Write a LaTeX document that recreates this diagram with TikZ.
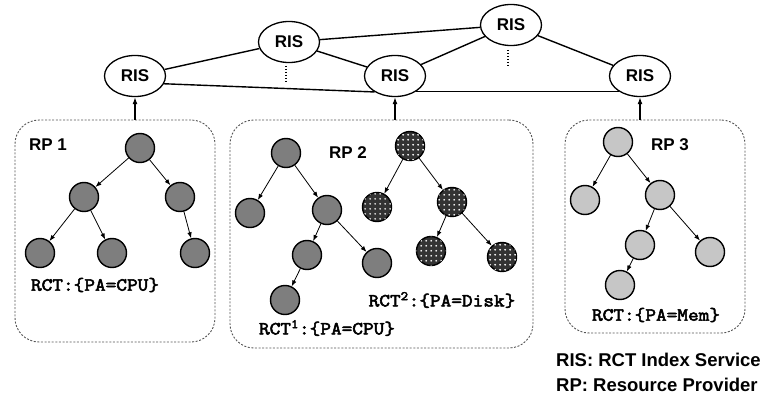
\documentclass[tikz,border=0pt]{standalone}
\usepackage{fontspec}
\setmainfont{Liberation Sans}
\newfontfamily\codefont{Latin Modern Mono}[FakeStretch=1.12, FakeBold=3]
\usetikzlibrary{shapes.geometric,arrows.meta,patterns.meta}

\definecolor{darkfill}{HTML}{7E7E7E}
\definecolor{lightfill}{HTML}{C6C6C6}
\definecolor{boxline}{HTML}{555555}

\tikzdeclarepattern{
  name=whitegrid,
  type=uncolored,
  bounding box={(0pt,0pt) and (4.6pt,4.6pt)},
  tile size={(4.6pt,4.6pt)},
  code={\fill (2.3pt,2.3pt) circle (1.05pt);}
}

\tikzset{
  ris/.style={ellipse, draw, line width=1.3pt, minimum width=61pt, minimum height=41pt,
    inner sep=0pt, font=\fontsize{17}{19}\selectfont\bfseries},
  rpbox/.style={draw=boxline, dash pattern=on 2pt off 1.6pt, line width=0.9pt,
    rounded corners=24pt, inner sep=0pt},
  tnode/.style={circle, draw, line width=1.4pt, minimum size=29pt, inner sep=0pt},
  gnode/.style={tnode, fill=darkfill},
  lnode/.style={tnode, fill=lightfill},
  pnode/.style={tnode, fill=black!80, postaction={pattern={whitegrid}, pattern color=white}},
  link/.style={line width=1.4pt},
  tedge/.style={line width=0.8pt, -{Latex[length=6pt,width=4.5pt]}},
  upedge/.style={line width=1.4pt, -{Latex[length=7pt,width=5pt]}},
  vdots/.style={line width=1.5pt, dash pattern=on 1.5pt off 1.5pt},
  rplabel/.style={font=\fontsize{17}{19}\selectfont\bfseries},
  rct/.style={font=\codefont\fontsize{18.5}{20}\selectfont, inner sep=0pt},
  legend/.style={anchor=west, inner sep=0pt, font=\fontsize{18.5}{21}\selectfont\bfseries}
}

\begin{document}
\begin{tikzpicture}[x=1pt, y=-1pt]
\useasboundingbox (0,0) rectangle (766,396);

% index services
\node[ris] (R1) at (135,76) {RIS};
\node[ris] (R2) at (289,42) {RIS};
\node[ris] (R3) at (395,76) {RIS};
\node[ris] (R4) at (511,25) {RIS};
\node[ris] (R5) at (640,76) {RIS};

\draw[link] (R1) -- (R2);
\draw[link] (R1.-15) -- (R3.218);
\draw[link] (R2) -- (R3);
\draw[link] (R2) -- (R4);
\draw[link] (R4) -- (R3);
\draw[link] (R4) -- (R5);
\draw[link] (R3.-36) -- (R5.216);

\coordinate (d1a) at (286,66);
\coordinate (d1b) at (286,83);
\coordinate (d2a) at (508,50);
\coordinate (d2b) at (508,67);
\draw[vdots] (d1a) -- (d1b);
\draw[vdots] (d2a) -- (d2b);

% resource providers
\node[rpbox, minimum width=200pt, minimum height=222pt] (B1) at (115,231) {};
\node[rpbox, minimum width=303pt, minimum height=228pt] (B2) at (381.5,234) {};
\node[rpbox, minimum width=180pt, minimum height=213pt] (B3) at (655,226.5) {};

\draw[upedge] (R1 |- B1.north) -- (R1);
\draw[upedge] (R3 |- B2.north) -- (R3);
\draw[upedge] (R5 |- B3.north) -- (R5);

\node[rplabel] (L1) at (48,145) {RP 1};
\node[rplabel] (L2) at (348,153) {RP 2};
\node[rplabel] (L3) at (670,145) {RP 3};

% RP 1 tree
\node[gnode] (a) at (140,148) {};
\node[gnode] (b) at (84,197) {};
\node[gnode] (c) at (180,197) {};
\node[gnode] (d) at (40,253) {};
\node[gnode] (e) at (112,253) {};
\node[gnode] (f) at (195,253) {};
\draw[tedge] (a) -- (b);
\draw[tedge] (a) -- (c);
\draw[tedge] (b) -- (d);
\draw[tedge] (b) -- (e);
\draw[tedge] (c) -- (f);
\node[rct] (T1) at (95,285) {RCT:\{PA=CPU\}};

% RP 2 trees
\node[gnode] (g1) at (286,153) {};
\node[gnode] (g2) at (250,213) {};
\node[gnode] (g3) at (327,210) {};
\node[gnode] (g4) at (307,255) {};
\node[gnode] (g5) at (377,263) {};
\node[gnode] (g6) at (285,300) {};
\draw[tedge] (g1) -- (g2);
\draw[tedge] (g1) -- (g3);
\draw[tedge] (g3) -- (g4);
\draw[tedge] (g3) -- (g5);
\draw[tedge] (g4) -- (g6);
\node[rct] (T2) at (327,328) {RCT\textsuperscript{1}:\{PA=CPU\}};

\node[pnode] (h1) at (410,146) {};
\node[pnode] (h2) at (377,207) {};
\node[pnode] (h3) at (452,202) {};
\node[pnode] (h4) at (431,251) {};
\node[pnode] (h5) at (502,257) {};
\draw[tedge] (h1) -- (h2);
\draw[tedge] (h1) -- (h3);
\draw[tedge] (h3) -- (h4);
\draw[tedge] (h3) -- (h5);
\node[rct] (T3) at (442,300) {RCT\textsuperscript{2}:\{PA=Disk\}};

% RP 3 tree
\node[lnode] (k1) at (618,142) {};
\node[lnode] (k2) at (585,200) {};
\node[lnode] (k3) at (660,195) {};
\node[lnode] (k4) at (640,245) {};
\node[lnode] (k5) at (710,252) {};
\node[lnode] (k6) at (620,285) {};
\draw[tedge] (k1) -- (k2);
\draw[tedge] (k1) -- (k3);
\draw[tedge] (k3) -- (k4);
\draw[tedge] (k3) -- (k5);
\draw[tedge] (k4) -- (k6);
\node[rct] (T4) at (656,315) {RCT:\{PA=Mem\}};

% legend
\node[legend] (G1) at (556,360) {RIS: RCT Index Service};
\node[legend] (G2) at (556,385) {RP: Resource Provider};
\end{tikzpicture}
\end{document}
